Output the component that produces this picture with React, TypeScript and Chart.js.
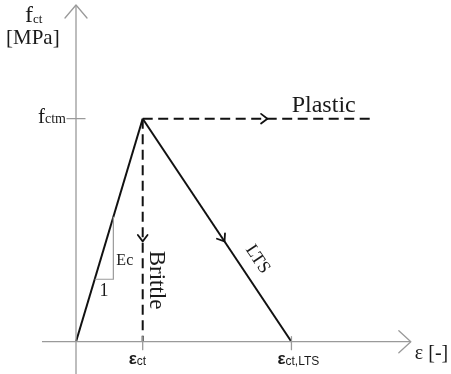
import React, { useEffect, useRef } from "react";
import { Chart, registerables } from "chart.js";
Chart.register(...registerables);

// strain in units of ε_ct, stress in units of f_ctm
const elasticStrain = [0, 1];
const elasticStress = [0, 1];
const plasticStrain = [1, 4.47];
const plasticStress = [1, 1];
const brittleStrain = [1, 1];
const brittleStress = [1, 0];
const ltsStrain = [1, 3.23];
const ltsStress = [1, 0];
const slopeStrain = [0.28, 0.56, 0.56];
const slopeStress = [0.28, 0.28, 0.56];
const xAxisStrain = [-0.51, 5.02];
const yAxisStress = [-0.15, 1.51];
const strainTicks = [1, 3.23];
const strainTickLabels = [["ε", "ct"], ["ε", "ct,LTS"]];
const stressTicks = [1];
const stressTickLabels = [["f", "ctm"]];
const arrowStrainPlastic = 2.87;
const arrowStressBrittle = 0.45;
const arrowFracLTS = 0.55;

const SERIF = '"Liberation Serif", "Times New Roman", serif';
const SANS = '"Liberation Sans", Arial, sans-serif';
const AXIS = "#9a9a9a";
const INK = "#111";

const pts = (xs: number[], ys: number[]) => xs.map((v, i) => ({ x: v, y: ys[i] }));

function poly(ctx: CanvasRenderingContext2D, p: number[][]) {
  ctx.beginPath();
  ctx.moveTo(p[0][0], p[0][1]);
  for (let i = 1; i < p.length; i++) ctx.lineTo(p[i][0], p[i][1]);
  ctx.stroke();
}

function chevron(ctx: CanvasRenderingContext2D, tx: number, ty: number, ang: number, len: number, half: number) {
  poly(ctx, [
    [tx - len * Math.cos(ang - half), ty - len * Math.sin(ang - half)],
    [tx, ty],
    [tx - len * Math.cos(ang + half), ty - len * Math.sin(ang + half)],
  ]);
}

function subText(ctx: CanvasRenderingContext2D, base: string, sub: string, x: number, y: number, bf: string, sf: string, dy: number, align: "left" | "right") {
  ctx.textAlign = "left";
  ctx.textBaseline = "alphabetic";
  ctx.font = bf;
  const bw = ctx.measureText(base).width;
  ctx.font = sf;
  const sw = ctx.measureText(sub).width;
  const x0 = align === "left" ? x : x - bw - sw;
  ctx.font = bf;
  ctx.fillText(base, x0, y);
  ctx.font = sf;
  ctx.fillText(sub, x0 + bw, y + dy);
}

const annot = {
  id: "annot",
  afterDatasetsDraw(chart: any) {
    const { ctx, scales } = chart;
    const X = (v: number) => scales.x.getPixelForValue(v);
    const Y = (v: number) => scales.y.getPixelForValue(v);
    const x0 = X(0), y0 = Y(0);
    ctx.save();
    ctx.lineCap = "round";
    ctx.lineJoin = "round";
    // axis arrowheads and ticks
    ctx.strokeStyle = AXIS;
    ctx.lineWidth = 1.3;
    const xt = X(xAxisStrain[1]);
    poly(ctx, [[xt - 12, y0 - 11], [xt, y0], [xt - 12, y0 + 11]]);
    const yt = Y(yAxisStress[1]);
    poly(ctx, [[x0 - 11, yt + 13], [x0, yt], [x0 + 11, yt + 13]]);
    strainTicks.forEach((v) => poly(ctx, [[X(v), y0 - 5], [X(v), y0 + 8]]));
    stressTicks.forEach((v) => poly(ctx, [[x0 - 9, Y(v)], [x0 + 9, Y(v)]]));
    // direction arrows on the branches
    ctx.strokeStyle = INK;
    ctx.lineWidth = 1.8;
    chevron(ctx, X(arrowStrainPlastic), Y(plasticStress[0]), 0, 8, 0.65);
    chevron(ctx, X(brittleStrain[0]), Y(arrowStressBrittle), Math.PI / 2, 8, 0.65);
    const lx = ltsStrain[0] + arrowFracLTS * (ltsStrain[1] - ltsStrain[0]);
    const ly = ltsStress[0] + arrowFracLTS * (ltsStress[1] - ltsStress[0]);
    const ltsAng = Math.atan2(Y(ltsStress[1]) - Y(ltsStress[0]), X(ltsStrain[1]) - X(ltsStrain[0]));
    chevron(ctx, X(lx), Y(ly), ltsAng, 8, 0.65);

    // texts
    ctx.fillStyle = "#1a1a1a";
    subText(ctx, "f", "ct", x0 - 51, yt + 17, `24px ${SERIF}`, `13px ${SERIF}`, 1, "left");
    ctx.font = `21px ${SERIF}`;
    ctx.textAlign = "left";
    ctx.fillText("[MPa]", x0 - 70, yt + 39);
    stressTicks.forEach((v, i) =>
      subText(ctx, stressTickLabels[i][0], stressTickLabels[i][1], x0 - 10, Y(v) + 4, `21px ${SERIF}`, `14px ${SERIF}`, 0, "right")
    );
    strainTicks.forEach((v, i) =>
      subText(ctx, strainTickLabels[i][0], strainTickLabels[i][1], X(v) - 14, y0 + 22, `bold 17px ${SANS}`, `12px ${SANS}`, 1, "left")
    );
    ctx.font = `20px ${SERIF}`;
    ctx.textAlign = "left";
    ctx.fillText("ε [-]", xt + 4, y0 + 17);

    ctx.font = `24px ${SERIF}`;
    ctx.fillText("Plastic", X(plasticStrain[0]) + 149, Y(plasticStress[0]) - 7);

    ctx.save();
    ctx.translate(X(brittleStrain[0]) + 7, Y(brittleStress[0]) + 132);
    ctx.rotate(Math.PI / 2);
    ctx.font = `23px ${SERIF}`;
    ctx.fillText("Brittle", 0, 0);
    ctx.restore();

    ctx.save();
    ctx.translate(X(lx) + 33, Y(ly) + 18);
    ctx.rotate(ltsAng);
    ctx.font = `18px ${SERIF}`;
    ctx.textAlign = "center";
    ctx.textBaseline = "middle";
    ctx.fillText("LTS", 0, 0);
    ctx.restore();

    ctx.font = `16px ${SERIF}`;
    ctx.textAlign = "left";
    ctx.fillText("Ec", X(slopeStrain[1]) + 3, Y(slopeStress[1]) - 14);
    ctx.font = `18px ${SERIF}`;
    ctx.textAlign = "center";
    ctx.fillText("1", X((slopeStrain[0] + slopeStrain[1]) / 2), Y(slopeStress[0]) + 17);
    ctx.restore();
  },
};

export default function App() {
  const ref = useRef<HTMLCanvasElement | null>(null);
  useEffect(() => {
    if (!ref.current) return;
    const pxPerX = 66.7, pxPerY = 223, ox = 76, oy = 341.7;
    const base = { showLine: true, pointRadius: 0, fill: false, tension: 0 };
    const chart = new Chart(ref.current, {
      type: "scatter",
      data: {
        datasets: [
          { ...base, data: pts(xAxisStrain, [0, 0]), borderColor: AXIS, borderWidth: 1.3 },
          { ...base, data: pts([0, 0], yAxisStress), borderColor: AXIS, borderWidth: 1.3 },
          { ...base, data: pts(slopeStrain, slopeStress), borderColor: AXIS, borderWidth: 1.2 },
          { ...base, data: pts(elasticStrain, elasticStress), borderColor: INK, borderWidth: 2 },
          { ...base, data: pts(plasticStrain, plasticStress), borderColor: INK, borderWidth: 2, borderDash: [10, 5.5] },
          { ...base, data: pts(brittleStrain, brittleStress), borderColor: INK, borderWidth: 2, borderDash: [10, 5.5] },
          { ...base, data: pts(ltsStrain, ltsStress), borderColor: INK, borderWidth: 2 },
        ],
      },
      options: {
        animation: false,
        responsive: false,
        maintainAspectRatio: false,
        layout: { padding: 0 },
        plugins: { legend: { display: false }, tooltip: { enabled: false }, title: { display: false } },
        scales: {
          x: { type: "linear", display: false, min: -ox / pxPerX, max: (451 - ox) / pxPerX },
          y: { type: "linear", display: false, min: -(374 - oy) / pxPerY, max: oy / pxPerY },
        },
      },
      plugins: [annot],
    });
    return () => chart.destroy();
  }, []);
  return (
    <div style={{ position: "fixed", left: 0, top: 0, width: 451, height: 374, background: "#fff" }}>
      <canvas ref={ref} width={451} height={374} style={{ width: 451, height: 374, display: "block" }} />
    </div>
  );
}
